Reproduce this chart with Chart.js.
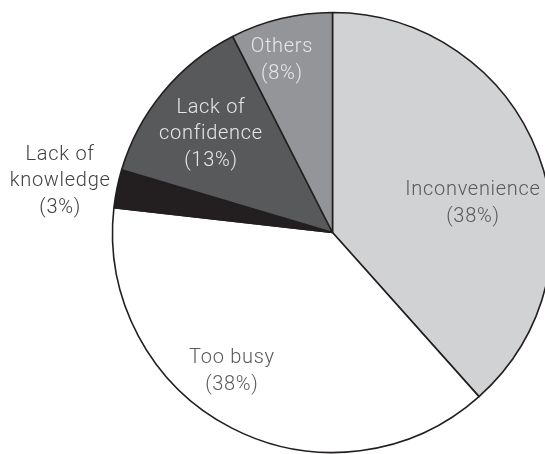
<!DOCTYPE html>
<html>
<head>
<meta charset="utf-8">
<script src="https://cdn.jsdelivr.net/npm/chart.js@4.4.0/dist/chart.umd.min.js"></script>
<style>
  html, body { margin: 0; padding: 0; background: #ffffff; overflow: hidden; width: 545px; height: 454px; }
  #wrap { position: absolute; left: 0; top: 0; width: 665px; height: 465px; }
</style>
</head>
<body>
<div id="wrap"><canvas id="c" width="665" height="465"></canvas></div>
<script>
// Data (slice shares in %, clockwise from 12 o'clock)
const categories = ["Inconvenience", "Too busy", "Lack of knowledge", "Lack of confidence", "Others"];
const shares = [38.4, 38.4, 2.8, 12.9, 7.5];
const labelText = ["38%", "38%", "3%", "13%", "8%"];
const labelLines = [["Inconvenience"], ["Too busy"], ["Lack of", "knowledge"], ["Lack of", "confidence"], ["Others"]];

const sliceColors = ["#d1d2d4", "#ffffff", "#231f20", "#58595b", "#939598"];
const textColors = ["#58595b", "#58595b", "#414042", "#e6e7e8", "#e6e7e8"];
// label anchor in polar form: [angle deg clockwise from top, radius fraction]
const labelPolar = [[78.3, 0.652], [215.9, 0.78], [280.7, 1.26], [309, 0.711], [343.6, 0.815]];

const labelPlugin = {
  id: 'sliceLabels',
  afterDatasetsDraw(chart) {
    const meta = chart.getDatasetMeta(0);
    const arc = meta.data[0];
    const cx = arc.x, cy = arc.y, R = arc.outerRadius;
    const ctx = chart.ctx;
    ctx.save();
    ctx.font = '300 20px Roboto, "Liberation Sans", sans-serif';
    if ('letterSpacing' in ctx) ctx.letterSpacing = '0.7px';
    ctx.textAlign = 'center';
    ctx.textBaseline = 'middle';
    const lh = 26.5;
    categories.forEach((c, i) => {
      const lines = labelLines[i].concat(["(" + labelText[i] + ")"]);
      const a = labelPolar[i][0] * Math.PI / 180;
      const r = labelPolar[i][1] * R;
      const x = cx + r * Math.sin(a);
      const y = cy - r * Math.cos(a);
      ctx.fillStyle = textColors[i];
      const y0 = y - (lines.length - 1) * lh / 2;
      lines.forEach((t, k) => ctx.fillText(t, x, y0 + k * lh));
    });
    ctx.restore();
  }
};

new Chart(document.getElementById('c'), {
  type: 'pie',
  data: {
    labels: categories,
    datasets: [{
      data: shares,
      backgroundColor: sliceColors,
      borderColor: "#231f20",
      borderWidth: 1.6,
      hoverOffset: 0
    }]
  },
  options: {
    responsive: false,
    animation: false,
    radius: 220,
    layout: { padding: 0 },
    plugins: {
      legend: { display: false },
      tooltip: { enabled: false },
      title: { display: false }
    },
    events: []
  },
  plugins: [labelPlugin]
});
</script>
</body>
</html>
